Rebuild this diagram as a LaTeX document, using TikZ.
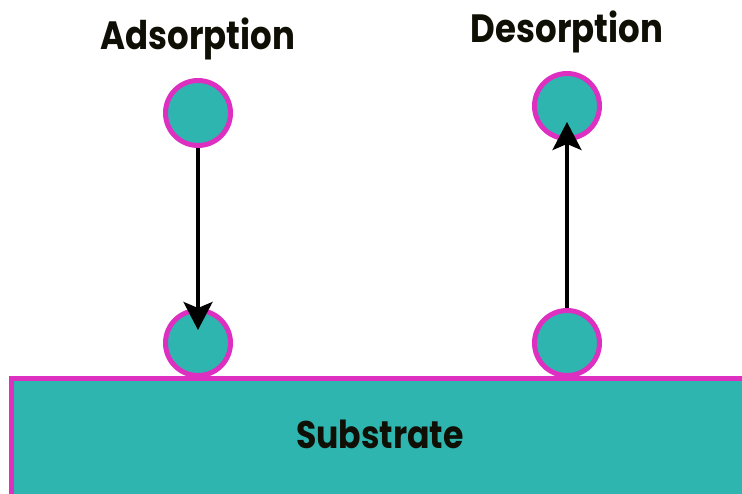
\documentclass[tikz,border=0pt]{standalone}
\usepackage{fontspec}
\setmainfont{Poppins}
\usetikzlibrary{arrows.meta}
\definecolor{tealfill}{RGB}{47,181,176}
\definecolor{rimpink}{RGB}{222,48,192}
\definecolor{inkdark}{RGB}{15,15,5}
\newcommand{\labeltext}[1]{\scalebox{0.86}[1]{\bfseries #1}}
\tikzset{
  particle/.style={circle, draw=rimpink, fill=tealfill, line width=5pt, minimum size=65pt, inner sep=0pt},
  move/.style={line width=3.5pt, -{Stealth[length=28pt, width=29pt, inset=6pt]}},
  title/.style={font=\fontsize{39.5}{40}\selectfont, text=inkdark, inner sep=0pt, anchor=base},
}
\begin{document}
\begin{tikzpicture}[x=1pt, y=-1pt]
  \useasboundingbox (0,0) rectangle (742,494);
  % substrate slab
  \begin{scope}
    \clip (0,0) rectangle (742,494);
    \filldraw[fill=tealfill, draw=rimpink, line width=5pt] (11.5,378.5) rectangle (760,520);
  \end{scope}
  \node[title, font=\fontsize{38.5}{39}\selectfont] (subst) at (380,448) {\labeltext{Substrate}};
  % adsorption
  \node[title] (adsT) at (198,50) {\labeltext{Adsorption}};
  \node[particle] (a1) at (198,113) {};
  \node[particle] (a2) at (198,343) {};
  \coordinate (atip) at (198,330);
  \draw[move] (a1.south) -- (atip);
  % desorption
  \node[title] (desT) at (567,43) {\labeltext{Desorption}};
  \node[particle] (d1) at (567,106) {};
  \node[particle] (d2) at (567,343) {};
  \coordinate (dtip) at (567,122);
  \draw[move] (d2.north) -- (dtip);
\end{tikzpicture}
\end{document}
